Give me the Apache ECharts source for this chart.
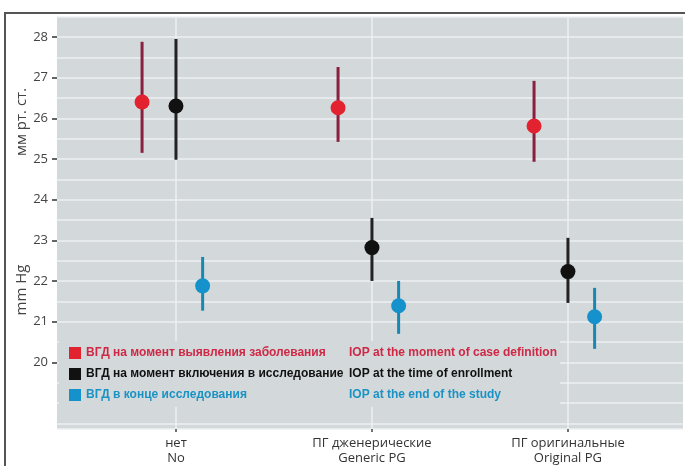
<!DOCTYPE html>
<html>
<head>
<meta charset="utf-8">
<script src="https://cdn.jsdelivr.net/npm/echarts@6/dist/echarts.min.js"></script>
<style>
  html, body { margin: 0; padding: 0; background: #fff; }
  #chart { width: 685px; height: 466px; }
</style>
</head>
<body>
<div id="chart"></div>
<script>
// категории (x = 1, 2, 3)
const categories = ['нет\nNo', 'ПГ дженерические\nGeneric PG', 'ПГ оригинальные\nOriginal PG'];
const catPos = [1, 2, 3];
const yTicks = [20, 21, 22, 23, 24, 25, 26, 27, 28];

const namesRu = [
  'ВГД на момент выявления заболевания',
  'ВГД на момент включения в исследование',
  'ВГД в конце исследования'
];
const namesEn = [
  'IOP at the moment of case definition',
  'IOP at the time of enrollment',
  'IOP at the end of the study'
];

// ВГД на момент выявления заболевания
const caseMean = [26.40, 26.26, 25.81];
const caseLow = [25.15, 25.42, 24.93];
const caseHigh = [27.88, 27.26, 26.92];
// ВГД на момент включения
const enrolMean = [26.30, 22.82, 22.23];
const enrolLow = [24.98, 22.00, 21.46];
const enrolHigh = [27.95, 23.55, 23.06];
// ВГД в конце исследования
const endMean = [21.88, 21.39, 21.12];
const endLow = [21.27, 20.70, 20.33];
const endHigh = [22.59, 22.00, 21.83];

const dotColors = ['#e2222e', '#111111', '#1591cc'];
const barColors = ['#8a1f3e', '#222222', '#1688b4'];
const textColors = ['#cf2845', '#111111', '#1a93c4'];
const dodge = [-0.173, 0, 0.136];

function rows(mean, low, high) {
  return catPos.map((x, i) => [x, mean[i], low[i], high[i]]);
}

function renderer(k) {
  return function (params, api) {
    const x = api.value(0) + dodge[k];
    const c = api.coord([x, api.value(1)]);
    const lo = api.coord([x, api.value(2)]);
    const hi = api.coord([x, api.value(3)]);
    return {
      type: 'group',
      children: [
        { type: 'line', shape: { x1: lo[0], y1: lo[1], x2: hi[0], y2: hi[1] },
          style: { stroke: barColors[k], lineWidth: 3 } },
        { type: 'circle', shape: { cx: c[0], cy: c[1], r: 7.5 },
          style: { fill: dotColors[k] } }
      ]
    };
  };
}

const data = [
  rows(caseMean, caseLow, caseHigh),
  rows(enrolMean, enrolLow, enrolHigh),
  rows(endMean, endLow, endHigh)
];

const yMin = 18.36, yMax = 28.49;
const font = '"Open Sans", "Noto Sans", sans-serif';
const legendFont = '"Liberation Sans Narrow", "Liberation Sans", sans-serif';

const chart = echarts.init(document.getElementById('chart'));
chart.setOption({
  animation: false,
  grid: { left: 57, right: 2, top: 17, bottom: 36, show: true, backgroundColor: '#d3d8db', borderWidth: 0 },
  xAxis: {
    type: 'value', min: 0.393, max: 3.587,
    axisLine: { show: false },
    axisTick: { show: true, customValues: catPos, length: 3, lineStyle: { color: '#444', width: 1.5 } },
    axisLabel: {
      customValues: catPos, margin: 7, color: '#333', fontFamily: font, fontSize: 13, lineHeight: 15,
      formatter: v => categories[Math.round(v) - 1]
    },
    splitLine: { show: true, lineStyle: { color: '#eef0f2', width: 1.5 } }
  },
  yAxis: [
    {
      type: 'value', min: yMin, max: yMax, splitNumber: 20,
      axisLine: { show: false }, axisTick: { show: false }, axisLabel: { show: false },
      splitLine: { show: true, lineStyle: { color: '#eef0f2', width: 1.5 } }
    },
    {
      type: 'value', min: yMin, max: yMax, position: 'left',
      axisLine: { show: false },
      axisTick: { show: true, customValues: yTicks, length: 5, lineStyle: { color: '#333', width: 1.5 } },
      axisLabel: { customValues: yTicks, margin: 9, color: '#444', fontFamily: font, fontSize: 13 },
      splitLine: { show: false }
    }
  ],
  legend: {
    orient: 'vertical', left: 59, top: 341, padding: [6, 3, 6, 10],
    backgroundColor: '#d3d8db',
    icon: 'rect', itemWidth: 12, itemHeight: 12, itemGap: 9,
    data: namesRu.map((n, i) => ({ name: n, textStyle: { color: textColors[i] } })),
    formatter: name => {
      const i = namesRu.indexOf(name);
      return '{ru|' + name + '}{en|' + namesEn[i] + '}';
    },
    textStyle: {
      fontFamily: legendFont, fontSize: 12, fontWeight: 'bold',
      rich: {
        ru: { width: 263, fontFamily: legendFont, fontSize: 12, fontWeight: 'bold' },
        en: { fontFamily: legendFont, fontSize: 12, fontWeight: 'bold' }
      }
    }
  },
  graphic: [
    { type: 'rect', shape: { x: 5, y: 13, width: 720, height: 500 }, style: { fill: 'none', stroke: '#555', lineWidth: 2 }, z: 100 },
    { type: 'text', x: 22, y: 122, rotation: Math.PI / 2, style: { text: 'мм рт. ст.', font: '15px "Open Sans", sans-serif', fill: '#444', align: 'center', verticalAlign: 'middle' } },
    { type: 'text', x: 22, y: 290, rotation: Math.PI / 2, style: { text: 'mm Hg', font: '15px "Open Sans", sans-serif', fill: '#444', align: 'center', verticalAlign: 'middle' } }
  ],
  series: data.map((d, k) => ({
    name: namesRu[k],
    type: 'custom',
    xAxisIndex: 0, yAxisIndex: 0,
    itemStyle: { color: dotColors[k] },
    encode: { x: 0, y: 1 },
    renderItem: renderer(k),
    data: d
  }))
});
</script>
</body>
</html>
